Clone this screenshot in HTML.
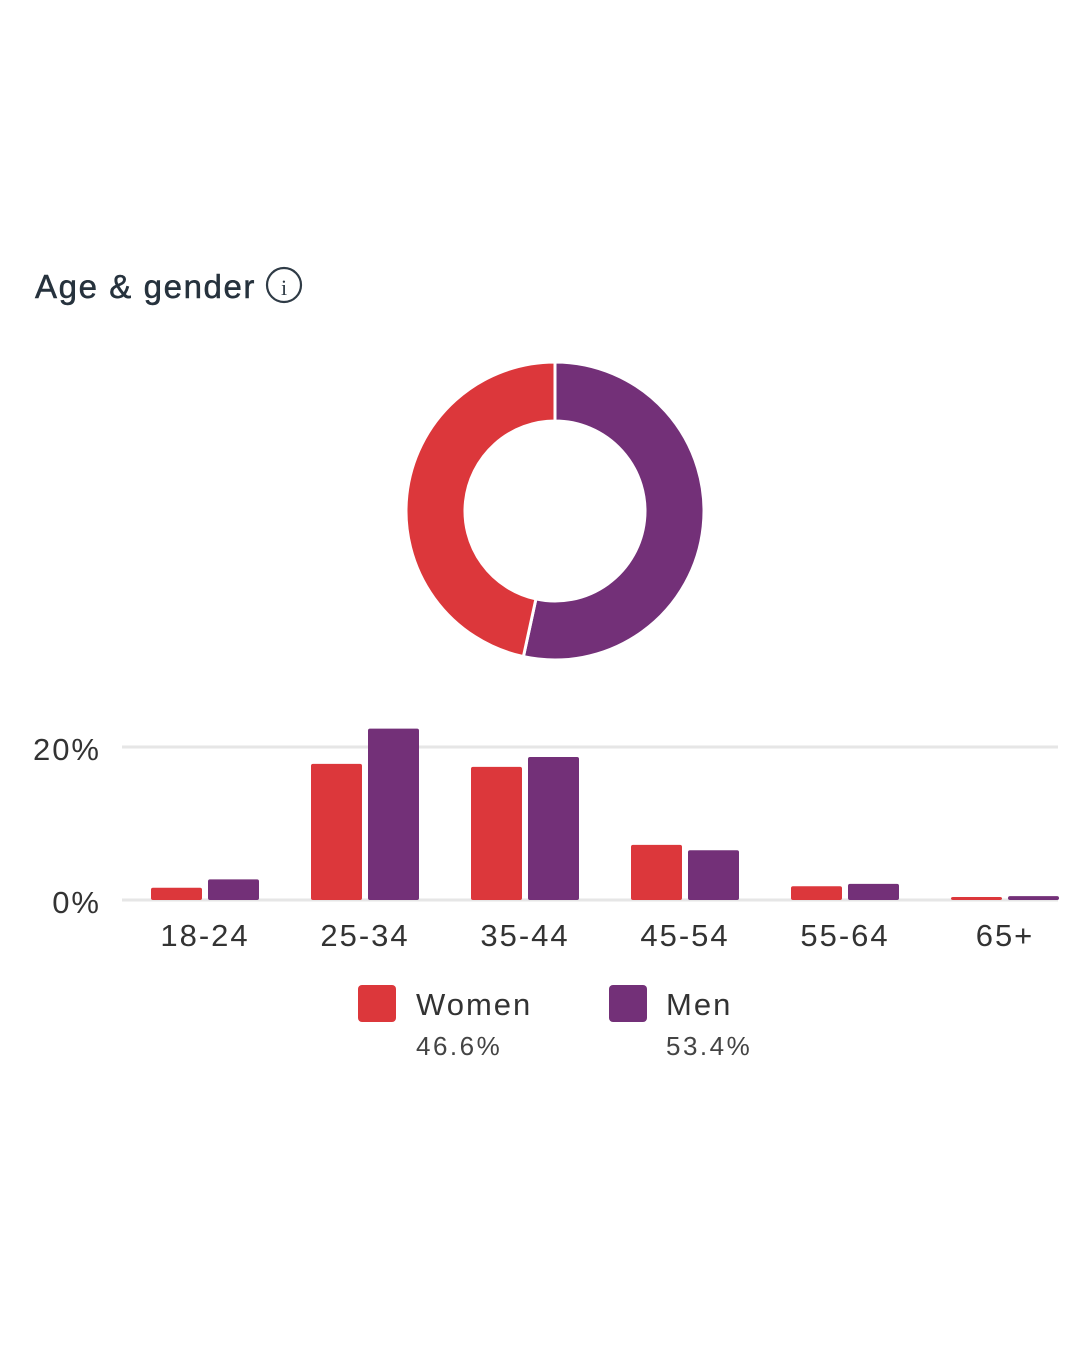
<!DOCTYPE html>
<html><head><meta charset="utf-8"><style>
html,body{margin:0;padding:0;background:#fff;}
body{width:1080px;height:1350px;position:relative;overflow:hidden;font-family:"Liberation Sans",sans-serif;}
</style></head><body>
<svg width="1080" height="1350" style="position:absolute;left:0;top:0">
<text x="35" y="298" font-size="33" letter-spacing="1.6" fill="#26323d" stroke="#26323d" stroke-width="0.5" font-family="Liberation Sans, sans-serif">Age &amp; gender</text>
<g>
<circle cx="284" cy="285" r="17" fill="none" stroke="#2f3b46" stroke-width="2.2"/>
<text x="284" y="295" font-size="22" text-anchor="middle" fill="#2f3b46" font-family="Liberation Serif, serif">i</text>
</g>
<g id="donut"></g>
<g id="bars"></g>
<g>
<rect x="358" y="985" width="38" height="37" rx="4" fill="#dc373b"/>
<text x="416" y="1015" font-size="31" letter-spacing="2" fill="#333">Women</text>
<text x="416" y="1055" font-size="26" letter-spacing="2.5" fill="#444">46.6%</text>
<rect x="609" y="985" width="38" height="37" rx="4" fill="#733078"/>
<text x="666" y="1015" font-size="31" letter-spacing="2" fill="#333">Men</text>
<text x="666" y="1055" font-size="26" letter-spacing="2.5" fill="#444">53.4%</text>
</g>
</svg>
<script>
const genderLabels = ["Women","Men"];
const genderShares = [46.6, 53.4];
const categories = ["18-24","25-34","35-44","45-54","55-64","65+"];
const womenValues = [1.6, 17.8, 17.4, 7.2, 1.8, 0.4];
const menValues = [2.7, 22.4, 18.7, 6.5, 2.1, 0.5];
const yTicks = [0, 20];
const yTickLabels = ["0%","20%"];

const NS="http://www.w3.org/2000/svg";
function mk(tag,attrs,parent){const e=document.createElementNS(NS,tag);for(const k in attrs)e.setAttribute(k,attrs[k]);parent.appendChild(e);return e;}
const colors=["#dc373b","#733078"];
const donut=document.getElementById("donut");
const cx=555,cy=511,R=149,r=90;
const total=genderShares.reduce((a,b)=>a+b,0);
function pt(rad,ang){return [cx+rad*Math.sin(ang),cy-rad*Math.cos(ang)];}
let segs=[{v:genderShares[1],c:colors[1],start:0,n:genderLabels[1]},{v:genderShares[0],c:colors[0],start:genderShares[1],n:genderLabels[0]}];
segs.forEach(s=>{
  const a0=s.start/total*2*Math.PI,a1=(s.start+s.v)/total*2*Math.PI;
  const large=(a1-a0)>Math.PI?1:0;
  const [x0,y0]=pt(R,a0),[x1,y1]=pt(R,a1),[x2,y2]=pt(r,a1),[x3,y3]=pt(r,a0);
  const p=mk("path",{d:`M${x0},${y0} A${R},${R} 0 ${large} 1 ${x1},${y1} L${x2},${y2} A${r},${r} 0 ${large} 0 ${x3},${y3} Z`,fill:s.c,stroke:"#fff","stroke-width":3},donut);
  
  
});
const bars=document.getElementById("bars");
const y0=900,pxPer=7.65;
function yScale(v){return y0-v*pxPer;}
function xCenter(i){return 205+i*160;}
yTicks.forEach((t,i)=>{
  const l=mk("line",{x1:122,x2:1058,y1:yScale(t),y2:yScale(t),stroke:"#e6e6e6","stroke-width":3},bars);
  
  
  const tx=mk("text",{x:101,y:yScale(t)+13,"font-size":31,"letter-spacing":2,"text-anchor":"end",fill:"#333"},bars);
  tx.textContent=yTickLabels[i];
  
  
});
categories.forEach((c,i)=>{
  const xc=xCenter(i);
  [[womenValues[i],xc-54,colors[0],"women"],[menValues[i],xc+3,colors[1],"men"]].forEach(([v,x,col,n])=>{
    const b=mk("rect",{x:x,y:yScale(v),width:51,height:Math.max(v*pxPer,0.5),fill:col,rx:2},bars);
    
    
  });
  const t=mk("text",{x:xc,y:946,"font-size":31,"letter-spacing":2,"text-anchor":"middle",fill:"#333"},bars);
  t.textContent=c;
  
  
});
</script>
</body></html>
